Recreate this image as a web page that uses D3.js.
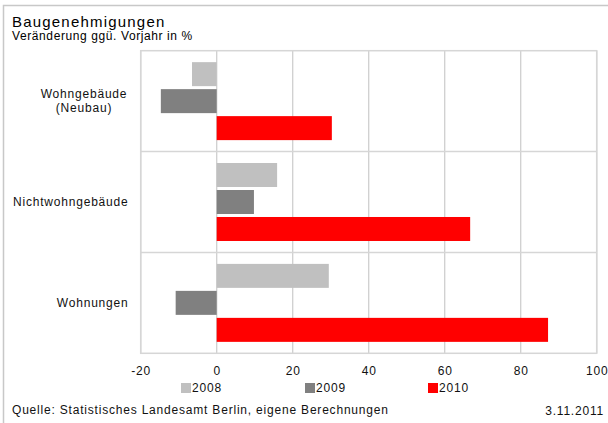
<!DOCTYPE html>
<html><head><meta charset="utf-8">
<script src="https://cdn.jsdelivr.net/npm/d3@7"></script>
<style>
body{margin:0;background:#fff;}
svg{display:block;font-family:"Liberation Sans",Arial,sans-serif;}
</style></head>
<body>
<svg id="c" width="608" height="423"></svg>
<script>
const categories = [["Wohngebäude","(Neubau)"],["Nichtwohngebäude"],["Wohnungen"]];
const seriesNames = ["2008","2009","2010"];
const v2008 = [-6.5, 15.9, 29.5];
const v2009 = [-14.7, 9.8, -10.8];
const v2010 = [30.3, 66.7, 87.2];
const tickValues = [-20, 0, 20, 40, 60, 80, 100];
const colors = ["#c0c0c0","#808080","#ff0000"];
const seriesVals = [v2008, v2009, v2010];

const svg = d3.select("#c");
const catKeys = categories.map(c => c.join(" "));

const x = d3.scaleLinear().domain([-20,100]).range([140.7,596.7]);
const y = d3.scaleBand().domain(catKeys).range([50.7,353.3]).paddingInner(0).paddingOuter(0);
const ys = d3.scaleBand().domain(seriesNames).range([0,y.bandwidth()]).paddingInner(0.111).paddingOuter(0.424);

// outer frame
svg.append("path").attr("d","M3.5,423 V5.5 H608").attr("fill","none").attr("stroke","#c8c8c8").attr("stroke-width",1.5);

// gridlines
svg.append("g").selectAll("line").data(tickValues).join("line")
  .attr("x1",d=>x(d)).attr("x2",d=>x(d)).attr("y1",y.range()[0]).attr("y2",y.range()[1])
  .attr("stroke","#cfcfcf").attr("stroke-width",1.3);
// category separators
svg.append("g").selectAll("line").data(catKeys.slice(1)).join("line")
  .attr("x1",x(-20)).attr("x2",x(100)).attr("y1",d=>y(d)).attr("y2",d=>y(d))
  .attr("stroke","#d6d6d6").attr("stroke-width",1.5);
// plot frame
svg.append("rect").attr("x",x(-20)).attr("y",y.range()[0]).attr("width",x(100)-x(-20)).attr("height",y.range()[1]-y.range()[0])
  .attr("fill","none").attr("stroke","#d6d6d6").attr("stroke-width",1.5);

// bars
seriesNames.forEach((s,si)=>{
  svg.append("g").selectAll("rect").data(seriesVals[si]).join("rect")
    .attr("x",d=>x(Math.min(0,d)))
    .attr("width",d=>Math.abs(x(d)-x(0)))
    .attr("y",(d,i)=>y(catKeys[i])+ys(s))
    .attr("height",ys.bandwidth())
    .attr("fill",colors[si]);
});

// x axis labels
const xAxis = d3.axisBottom(x).tickValues(tickValues).tickFormat(d=>String(d)).tickSize(0).tickPadding(0);
const gx = svg.append("g").attr("transform","translate(0,366)").call(xAxis);
gx.select(".domain").remove();
gx.selectAll("text").attr("font-size",12).attr("fill","#111").attr("font-family","Liberation Sans, Arial, sans-serif").attr("letter-spacing",0.8);

// category labels
categories.forEach((c,i)=>{
  const cy = y(catKeys[i]) + y.bandwidth()/2;
  const n = c.length;
  const t = svg.append("text").attr("font-size",12).attr("fill","#111").attr("letter-spacing",0.8);
  c.forEach((line,li)=>{
    t.append("tspan").attr("x", n>1 ? 84 : 128.5).attr("text-anchor", n>1?"middle":"end")
      .attr("y", cy + 4 + (li - (n-1)/2)*14.5).text(line);
  });
});

// titles
svg.append("text").attr("x",12).attr("y",27).attr("font-size",15).attr("fill","#000").attr("letter-spacing",1.2).text("Baugenehmigungen");
svg.append("text").attr("x",12).attr("y",40).attr("font-size",12).attr("fill","#000").attr("letter-spacing",0.6).text("Veränderung ggü. Vorjahr in %");

// legend
const legX = [181, 305, 428];
seriesNames.forEach((s,i)=>{
  svg.append("rect").attr("x",legX[i]).attr("y",383).attr("width",10).attr("height",10).attr("fill",colors[i]);
  svg.append("text").attr("x",legX[i]+11).attr("y",392).attr("font-size",12).attr("fill","#111").attr("letter-spacing",0.8).text(s);
});

// footer
svg.append("text").attr("x",12).attr("y",414).attr("font-size",12).attr("fill","#111").attr("letter-spacing",0.8).text("Quelle: Statistisches Landesamt Berlin, eigene Berechnungen");
svg.append("text").attr("x",604).attr("y",415).attr("text-anchor","end").attr("font-size",12).attr("fill","#111").attr("letter-spacing",0.8).text("3.11.2011");
</script>
</body></html>
